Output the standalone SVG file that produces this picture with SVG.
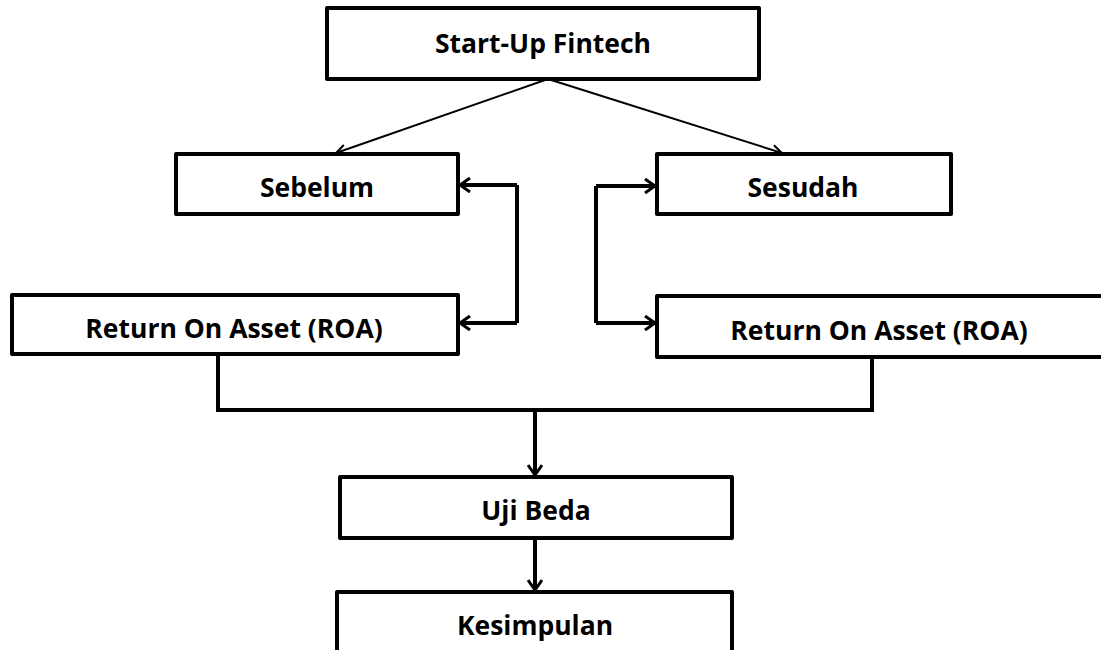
<svg xmlns="http://www.w3.org/2000/svg" width="1101" height="650" viewBox="0 0 1101 650">
<style>
.box{fill:#fff;stroke:#000;stroke-width:4;stroke-linejoin:round}
.lbl{font-family:"Open Sans","Liberation Sans",sans-serif;font-weight:700;font-size:26.5px;fill:#000;text-anchor:middle}
.thick{fill:none;stroke:#000;stroke-width:4}
.thin{fill:none;stroke:#000;stroke-width:2}
</style>
<defs>
<marker id="ah" markerWidth="16" markerHeight="16" refX="12" refY="8" orient="auto" markerUnits="userSpaceOnUse">
<polyline points="2,1 12,8 2,15" fill="none" stroke="#000" stroke-width="3"/>
</marker>
<marker id="ahs" markerWidth="14" markerHeight="14" refX="12" refY="7" orient="auto" markerUnits="userSpaceOnUse">
<polyline points="2,2 12,7 2,12" fill="none" stroke="#000" stroke-width="2"/>
</marker>
</defs>
<rect width="1101" height="650" fill="#fff"/>
<g id="n-startup"><rect class="box" x="327" y="8" width="432" height="71"/><text class="lbl" x="543" y="53">Start-Up Fintech</text></g>
<g id="n-sebelum"><rect class="box" x="176" y="154" width="282" height="60"/><text class="lbl" x="317" y="197">Sebelum</text></g>
<g id="n-sesudah"><rect class="box" x="657" y="154" width="294" height="60"/><text class="lbl" x="803" y="197">Sesudah</text></g>
<g id="n-roa-left"><rect class="box" x="12" y="295" width="446" height="59"/><text class="lbl" x="234" y="338">Return On Asset (ROA)</text></g>
<g id="n-roa-right"><rect class="box" x="657" y="296" width="460" height="61"/><text class="lbl" x="879" y="340">Return On Asset (ROA)</text></g>
<g id="n-uji"><rect class="box" x="340" y="477" width="392" height="61"/><text class="lbl" x="536" y="520">Uji Beda</text></g>
<g id="n-kesimpulan"><rect class="box" x="337" y="592" width="395" height="64"/><text class="lbl" x="535" y="635">Kesimpulan</text></g>
<g id="connectors">
<line class="thin" x1="548" y1="79" x2="336" y2="153" marker-end="url(#ahs)"/>
<line class="thin" x1="548" y1="79" x2="782" y2="153" marker-end="url(#ahs)"/>
<polyline class="thick" points="517,185 517,323"/>
<line class="thick" x1="517" y1="185" x2="460" y2="185" marker-end="url(#ah)"/>
<line class="thick" x1="517" y1="323" x2="460" y2="323" marker-end="url(#ah)"/>
<polyline class="thick" points="596,186 596,323"/>
<line class="thick" x1="596" y1="186" x2="655" y2="186" marker-end="url(#ah)"/>
<line class="thick" x1="596" y1="323" x2="655" y2="323" marker-end="url(#ah)"/>
<polyline class="thick" points="218,354 218,410 872,410 872,357"/>
<line class="thick" x1="535" y1="410" x2="535" y2="475" marker-end="url(#ah)"/>
<line class="thick" x1="535" y1="538" x2="535" y2="590" marker-end="url(#ah)"/>
</g>
</svg>
